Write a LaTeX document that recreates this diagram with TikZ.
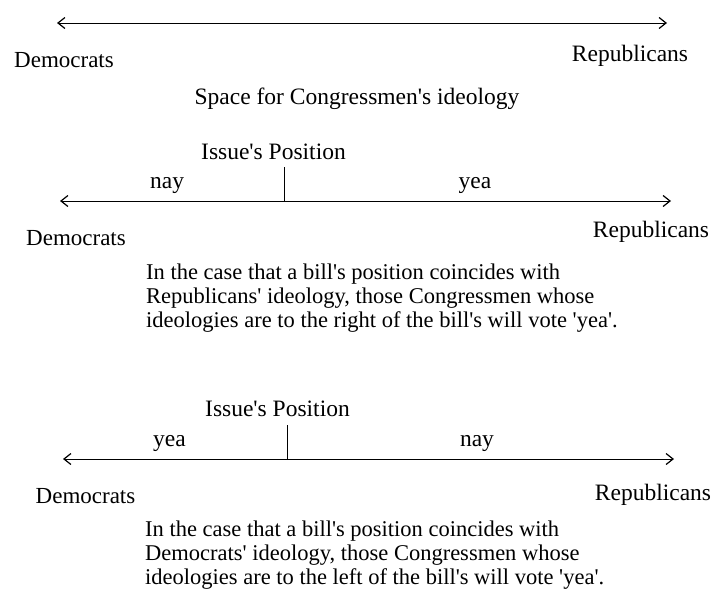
\documentclass[tikz,border=0pt]{standalone}
\usepackage{fontspec}
\setmainfont{Liberation Serif}
\usetikzlibrary{arrows.meta}
\newcommand\myq{\textquotesingle}
\begin{document}
\begin{tikzpicture}[x=1pt,y=-1pt,
  lbl/.style={inner sep=0pt,anchor=base,font=\fontsize{23.5}{25}\selectfont},
  dem/.style={lbl,font=\fontsize{23}{25}\selectfont},
  para/.style={inner sep=0pt,anchor=base west,align=left,font=\fontsize{22.5}{24}\selectfont},
  axis/.style={line width=1pt,{Straight Barb[length=7pt,width=11pt,line width=1.2pt]}-{Straight Barb[length=7pt,width=11pt,line width=1.2pt]}},
  tick/.style={line width=1pt}]
\useasboundingbox (0,0) rectangle (714,595);
% Section 1
\coordinate (a1l) at (57,23);
\coordinate (a1r) at (667,23);
\draw[axis] (a1l) -- (a1r);
\node[dem] (d1) at (64,67.5) {Democrats};
\node[lbl] (r1) at (630,61.5) {Republicans};
\node[lbl] (s1) at (357,104) {Space for Congressmen\myq s ideology};
% Section 2
\coordinate (a2l) at (60,201);
\coordinate (a2r) at (671,201);
\draw[axis] (a2l) -- (a2r);
\coordinate (t2b) at (284,201);
\coordinate (t2t) at (284,167);
\draw[tick] (t2b) -- (t2t);
\node[lbl,anchor=base west] (ip2) at (201,159.5) {Issue\myq s Position};
\node[lbl,anchor=base west] (n2) at (150,188.5) {nay};
\node[lbl] (y2) at (475,188.5) {yea};
\node[dem] (d2) at (76,245) {Democrats};
\node[lbl] (r2) at (651,237) {Republicans};
\node[para] (p2) at (146,327.7) {In the case that a bill\myq s position coincides with\\Republicans\myq{} ideology, those Congressmen whose\\ideologies are to the right of the bill\myq s will vote \myq yea\myq.};
% Section 3
\coordinate (a3l) at (63,459);
\coordinate (a3r) at (674,459);
\draw[axis] (a3l) -- (a3r);
\coordinate (t3b) at (287,459);
\coordinate (t3t) at (287,424.5);
\draw[tick] (t3b) -- (t3t);
\node[lbl,anchor=base west] (ip3) at (205,416.7) {Issue\myq s Position};
\node[lbl,anchor=base west] (y3) at (153,446) {yea};
\node[lbl] (n3) at (477,446) {nay};
\node[dem] (d3) at (85.5,503) {Democrats};
\node[lbl] (r3) at (653,500) {Republicans};
\node[para] (p3) at (145,584.7) {In the case that a bill\myq s position coincides with\\Democrats\myq{} ideology, those Congressmen whose\\ideologies are to the left of the bill\myq s will vote \myq yea\myq.};
\end{tikzpicture}
\end{document}
